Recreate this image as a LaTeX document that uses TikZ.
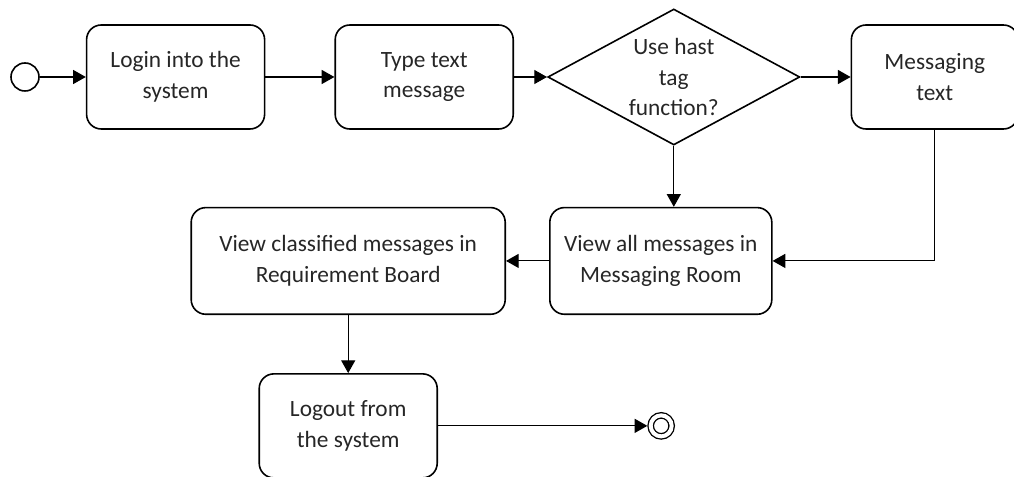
\documentclass[tikz,border=0pt]{standalone}
\usepackage{fontspec}
\setmainfont{Carlito}
\usepackage{tikz}
\usetikzlibrary{positioning}
\usetikzlibrary{shapes.geometric,arrows.meta}

\begin{document}
\begin{tikzpicture}[action/.style={rectangle, draw, line width=1.2pt,
    rounded corners=11pt, minimum width=133.5pt, minimum height=78pt,
    align=center, text=black!85},
  decision/.style={diamond, draw, line width=1.2pt, aspect=1.85,
    minimum width=189pt, minimum height=102pt, inner sep=-6pt,
    align=center, text=black!85},
  startdot/.style={circle, draw, line width=1.2pt, minimum size=21pt},
  enddot/.style={circle, draw, line width=1pt, double, double distance=3pt,
    minimum size=15.75pt, outer sep=2.5pt},
  >={Triangle[length=9.5pt,width=10.5pt]}, line width=0.8pt,
  font=\fontsize{17.5}{23}\selectfont]

  \useasboundingbox (-18.75pt,-300pt) rectangle (741.75pt,57.75pt);

  \node[startdot] (start) at (0,0) {};
  \node[action, right=34.5pt of start] (login) {Login into the\\system};
  \node[action, right=51.75pt of login] (type) {Type text\\message};
  \node[decision, right=24.75pt of type] (hash) {Use hast\\tag\\function?};
  \node[action, right=37.5pt of hash, minimum width=125pt] (msg) {Messaging\\text};
  \node[action, below=45.75pt of hash, xshift=-9.75pt, minimum width=166.5pt,
    minimum height=80pt] (viewall) {View all messages in\\Messaging Room};
  \node[action, left=32.25pt of viewall, minimum width=235.5pt,
    minimum height=80pt] (classified) {View classified messages in\\Requirement Board};
  \node[action, below=43.5pt of classified, minimum height=78pt] (logout) {Logout from\\the system};
  \node[enddot, right=157pt of logout] (end) {};

  \draw[->] (start) -- (login);
  \draw[->] (login) -- (type);
  \draw[->] (type) -- (hash);
  \draw[->] (hash) -- (msg);
  \draw[->] (hash.south) -- (hash.south |- viewall.north);
  \draw[->] (msg) |- (viewall);
  \draw[->] (viewall) -- (classified);
  \draw[->] (classified) -- (logout);
  \draw[->] (logout) -- (end);
\end{tikzpicture}
\end{document}
